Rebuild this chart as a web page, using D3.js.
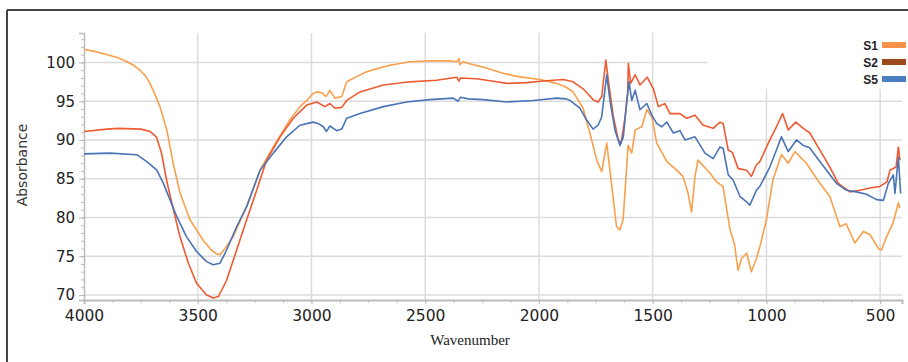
<!DOCTYPE html>
<html>
<head>
<meta charset="utf-8">
<script src="https://cdn.jsdelivr.net/npm/d3@7"></script>
<style>
  body { margin: 0; background: #fff; }
  svg { display: block; }
</style>
</head>
<body>
<svg id="chart"></svg>
<script>
// Series data (wavenumber, absorbance)
var s1Wn  = [4000,3950,3886,3850,3811,3780,3754,3730,3710,3690,3666,3636,3608,3578,3534,3477,3440,3417,3402,3380,3345,3285,3226,3168,3095,3050,3021,2993,2977,2955,2936,2919,2897,2867,2845,2800,2757,2700,2655,2567,2479,2391,2360,2352,2347,2335,2300,2246,2158,2098,1996,1922,1880,1850,1806,1776,1746,1724,1702,1681,1659,1644,1630,1608,1592,1577,1548,1526,1504,1482,1438,1394,1367,1345,1329,1314,1301,1248,1219,1191,1160,1140,1125,1109,1087,1066,1044,1029,1000,972,934,904,875,824,765,721,677,650,611,574,545,508,494,472,443,420,413];
var s1Abs = [101.7,101.4,100.9,100.6,100.1,99.6,99.0,98.3,97.3,96.0,94.3,91.3,87.0,83.2,79.7,77.1,75.8,75.3,75.2,76.0,77.5,81.4,86.1,89.1,92.6,94.3,95.1,96.0,96.2,96.1,95.6,96.4,95.4,95.6,97.5,98.2,98.8,99.3,99.65,100.1,100.2,100.2,100.1,100.5,99.7,100.1,99.8,99.4,98.6,98.2,97.8,97.3,96.8,96.2,94.1,90.9,87.4,85.9,89.6,84.4,78.8,78.4,79.7,89.3,88.3,91.3,91.7,93.9,93.0,89.6,87.2,86.1,85.3,83.2,80.7,85.3,87.4,85.7,84.6,84.0,78.4,76.5,73.2,74.7,75.4,73.0,74.7,76.2,79.7,84.8,88.1,87.0,88.5,87.0,84.4,82.7,78.8,79.2,76.7,78.2,77.8,76.0,75.8,77.5,79.3,81.9,81.2];

var s2Wn  = [4000,3900,3850,3750,3710,3682,3659,3637,3607,3578,3541,3505,3461,3432,3409,3373,3329,3285,3241,3197,3138,3080,3021,2977,2941,2919,2897,2867,2845,2787,2684,2567,2450,2362,2352,2345,2274,2186,2142,2054,1981,1893,1850,1806,1780,1762,1740,1724,1706,1695,1673,1651,1639,1621,1610,1607,1597,1577,1556,1524,1497,1475,1446,1424,1380,1351,1314,1278,1234,1204,1190,1168,1150,1124,1087,1066,1044,1029,985,956,929,904,871,838,809,765,721,684,633,589,545,501,470,457,430,420,413];
var s2Abs = [91.1,91.4,91.5,91.4,91.1,90.4,88.3,84.8,81.0,77.5,74.1,71.5,70.0,69.6,69.8,71.9,75.8,79.7,83.5,87.4,90.4,92.8,94.5,94.9,94.3,94.7,94.1,94.2,95.1,96.2,97.1,97.5,97.7,98.1,97.6,98.0,97.9,97.5,97.3,97.4,97.6,97.8,97.5,96.6,95.8,95.2,94.9,95.6,100.3,97.7,93.0,90.0,89.6,93.0,96.0,99.9,97.3,98.4,97.1,98.1,96.6,94.3,94.7,93.4,93.4,92.8,93.2,91.9,91.5,92.3,92.1,88.7,88.4,86.3,86.1,85.3,86.8,87.2,90.0,91.7,93.4,91.3,92.3,91.5,90.9,88.7,86.5,84.4,83.3,83.5,83.8,84.0,84.6,86.1,86.5,89.1,87.4];

var s5Wn  = [4000,3886,3768,3724,3680,3651,3622,3592,3549,3505,3461,3432,3402,3373,3329,3285,3226,3168,3109,3051,2992,2970,2948,2934,2919,2889,2867,2845,2787,2684,2582,2479,2377,2355,2345,2310,2245,2142,2025,1922,1880,1864,1820,1791,1762,1740,1724,1702,1688,1666,1644,1629,1615,1604,1592,1577,1556,1526,1504,1482,1460,1438,1409,1380,1358,1314,1270,1234,1204,1190,1168,1146,1116,1087,1073,1044,1029,985,956,934,904,868,838,810,780,736,692,648,604,560,516,486,464,442,435,420,410];
var s5Abs = [88.2,88.3,88.1,87.2,86.1,84.4,82.3,80.1,77.5,75.6,74.3,73.9,74.1,75.8,78.8,81.4,86.1,88.3,90.4,91.9,92.3,92.1,91.7,91.1,91.8,91.2,91.4,92.8,93.4,94.3,94.9,95.2,95.4,95.0,95.5,95.3,95.2,94.9,95.1,95.4,95.3,95.1,94.1,92.6,91.4,91.9,93.0,98.4,95.1,91.3,89.3,90.4,94.7,97.5,95.1,96.4,93.9,94.7,93.2,92.1,91.7,92.3,90.9,91.2,90.0,90.4,88.3,87.6,89.1,88.9,85.5,84.8,82.7,82.0,81.6,83.5,84.0,86.5,88.7,90.4,88.5,90.0,89.3,89.0,87.8,86.1,84.4,83.5,83.3,83.0,82.3,82.2,84.4,85.5,83.1,87.8,83.1];

var seriesNames  = ["S1", "S2", "S5"];
var lineColours  = ["#f8a04c", "#ee5b32", "#4a74b6"];
var legendColours = ["#f7924a", "#9c4a1c", "#4a7ec0"];
var yTicks = [70, 75, 80, 85, 90, 95, 100];
var xTicks = [4000, 3500, 3000, 2500, 2000, 1500, 1000, 500];

var width = 908, height = 362;
var plotL = 84, plotR = 902, plotT = 33, plotB = 300;

var svg = d3.select("#chart").attr("width", width).attr("height", height);

var x = d3.scaleLinear().domain([4000, 404]).range([plotL, plotR]);
var y = d3.scaleLinear().domain([69.35, 103.8]).range([plotB, plotT]);

// outer frame (top + left edges only visible)
svg.append("line").attr("x1", 7).attr("x2", width).attr("y1", 10).attr("y2", 10)
  .attr("stroke", "#444").attr("stroke-width", 2);
svg.append("line").attr("x1", 7).attr("x2", 7).attr("y1", 10).attr("y2", height)
  .attr("stroke", "#444").attr("stroke-width", 2);

// grid
var grid = svg.append("g").attr("stroke", "#dcdcdc").attr("stroke-width", 1.5);
grid.selectAll(".hg").data(yTicks).enter().append("line")
  .attr("x1", plotL).attr("x2", plotR)
  .attr("y1", function(d) { return y(d); }).attr("y2", function(d) { return y(d); });
grid.selectAll(".vg").data(xTicks.slice(1)).enter().append("line")
  .attr("y1", plotT).attr("y2", plotB)
  .attr("x1", function(d) { return x(d); }).attr("x2", function(d) { return x(d); });

// legend background hides grid in the top right corner
svg.append("rect").attr("x", 707).attr("y", 28).attr("width", 201).attr("height", 61).attr("fill", "#fff");

// axes
var minorY = d3.range(70, 104, 1);
svg.append("g").attr("transform", "translate(" + plotL + ",0)")
  .call(d3.axisLeft(y).tickValues(minorY).tickSize(3).tickFormat(""))
  .call(function(g) { g.select(".domain").remove(); g.selectAll("line").attr("stroke", "#bbb"); });
var yAxis = svg.append("g").attr("transform", "translate(" + plotL + ",0)")
  .call(d3.axisLeft(y).tickValues(yTicks).tickSize(5).tickPadding(4));
yAxis.select(".domain").attr("stroke", "#bbb").attr("stroke-width", 1.5);
yAxis.selectAll("line").attr("stroke", "#bbb");
yAxis.selectAll("text").attr("font-family", "DejaVu Sans").attr("font-size", 15).attr("fill", "#222");

var minorX = d3.range(4000, 399, -125);
svg.append("g").attr("transform", "translate(0," + plotB + ")")
  .call(d3.axisBottom(x).tickValues(minorX).tickSize(3).tickFormat(""))
  .call(function(g) { g.select(".domain").remove(); g.selectAll("line").attr("stroke", "#bbb"); });
var xAxis = svg.append("g").attr("transform", "translate(0," + plotB + ")")
  .call(d3.axisBottom(x).tickValues(xTicks).tickSize(4).tickPadding(6).tickFormat(d3.format("d")));
xAxis.select(".domain").attr("stroke", "#bbb").attr("stroke-width", 2);
xAxis.selectAll("line").attr("stroke", "#bbb");
xAxis.selectAll("text").attr("font-family", "DejaVu Sans").attr("font-size", 15.5).attr("fill", "#222");

// axis titles
svg.append("text").attr("x", 470).attr("y", 345).attr("text-anchor", "middle")
  .attr("font-family", "Liberation Serif").attr("font-size", 15).attr("fill", "#222")
  .text("Wavenumber");
svg.append("text").attr("transform", "translate(27,165) rotate(-90)").attr("text-anchor", "middle")
  .attr("font-family", "DejaVu Sans").attr("font-size", 14).attr("fill", "#333")
  .text("Absorbance");

// lines
var series = [
  { wn: s1Wn, abs: s1Abs },
  { wn: s2Wn, abs: s2Abs },
  { wn: s5Wn, abs: s5Abs }
];
var line = d3.line()
  .x(function(d) { return x(d[0]); })
  .y(function(d) { return y(d[1]); });

svg.append("g").selectAll("path").data(series).enter().append("path")
  .attr("d", function(s) { return line(d3.zip(s.wn, s.abs)); })
  .attr("fill", "none")
  .attr("stroke", function(s, i) { return lineColours[i]; })
  .attr("stroke-width", 1.6)
  .attr("stroke-linejoin", "round");

// legend
var lg = svg.append("g").selectAll("g").data(seriesNames).enter().append("g")
  .attr("transform", function(d, i) { return "translate(0," + (45 + i * 17) + ")"; });
lg.append("text").attr("x", 878).attr("y", 5).attr("text-anchor", "end")
  .attr("font-family", "Liberation Sans").attr("font-weight", "bold").attr("font-size", 12).attr("fill", "#222")
  .text(function(d) { return d; });
lg.append("rect").attr("x", 882).attr("y", -3).attr("width", 24).attr("height", 6)
  .attr("fill", function(d, i) { return legendColours[i]; });
</script>
</body>
</html>
